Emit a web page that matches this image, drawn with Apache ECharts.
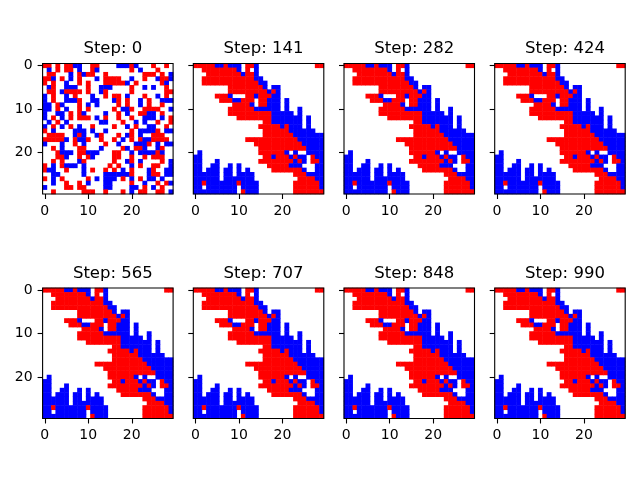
<!DOCTYPE html>
<html>
<head>
<meta charset="utf-8">
<script src="https://cdn.jsdelivr.net/npm/echarts@6/dist/echarts.min.js"></script>
<style>
  html, body { margin: 0; padding: 0; background: #fff; }
  #chart { width: 640px; height: 480px; }
</style>
</head>
<body>
<div id="chart"></div>
<script>
// step numbers shown in the titles
const steps = [0, 141, 282, 424, 565, 707, 848, 990];

// R = red agent, B = blue agent, . = empty ; row 0 at the top
const gridStep0 = [
  "RR.R.RRBB..RR....BBBRB...R..R.",
  ".B.R.RR.B..RB.......R.B...R...",
  ".RR...B.RBRR..R........RRR.R.B",
  "RRB.R.B.R...B.RRRR..B..R..BRRB",
  "R.R..B..R.R...RRRRRB.R.....RB.",
  ".BR..BBB..R..BBB....R..B.B..R.",
  ".RR.BRRRR.R..BR.....R.......RR",
  "B.R..B.R...B..R.RR.B...R..B.R.",
  "B.R..BBBR..BB...BR.R..B.R..BBB",
  "BB.RB...R.B.B....R.R..B.R..R..",
  "BB.R.B..R.R.....R.BBR..RRRR..B",
  "B..BB.R.RB....B..R.B..RRBB.R..",
  "B.R.B.R.RRR.B.R..R..R..BBB.B.R",
  ".B.R.B.......BB...R..B.B..R..R",
  "B.R.B.R.B..R....R..B.R..BB..R.",
  "R.B....BBB.B..B.....R.BBBBR.BB",
  ".RRRR..BRB..BR...R.BR.B..RRR..",
  "RRRRRB.RBBR..R..R.B.R.RBBRRRR.",
  "B...B..R.B....R..B...BBBR.B.BB",
  "..R.B...RR...B....RB.RRB..BR..",
  "...RBBB.RRBBB...RR..B.BBBBRB..",
  "...RRB..R.RB....RR..R..R.RRR..",
  "..R.R...BR......R..BR.B....R.B",
  "R.B.RBBB.B.....R.R..B.R..RR..B",
  "RBB..R...B.R..R.R.B.R...BR..BB",
  "..BB.....B....BBBBBBR...BRR.BB",
  "R.B.R.....R.B.BBB.R.B.R.BB.B..",
  "..B..R..R.B...BB....R..B..R.RB",
  "B....RR.RR....BB....BB.R.B.R..",
  "..R......RRR..R...R.B.RR..RR.B"
];

// steps 141..990 look the same at this size
const gridLater = [
  "RRRRRBBRBBB.RRB.............RR",
  "..RRRRRRRRB.R.B...............",
  "...RRRRRRRRBRRB...............",
  "..RRRRRRRRRRRRBB..............",
  "..RRRRRRRRRRRRRBB.............",
  "........RRRRRRRRB.BB..........",
  "........RRRRRRRRRBRB..........",
  ".....RRRB...RRBRRRBB..........",
  "......RRRBBRRR.RRBBB.B........",
  ".........RRRRB.RRBBB.B........",
  "........RRRRRRBBBBBB.B..B.....",
  "........RRRRRRRRRRBBBBB.B.....",
  "..........RRRRRRRRBBBBBBB.B...",
  "................RRBBBBBBB.B...",
  "...............RRRRRBRBBB.B...",
  "................RRRRRRBBBBBB..",
  "................RRRRRRRBBBBBBB",
  "............RRRRRRRRRRRRBBBBBB",
  "..............RRRRRRRRRRRBBBBB",
  "...............RRRRRRRRRRRBBBB",
  ".B.............RRRRRRB.B..BBBB",
  "BB..............RRBRRRBRBB.RBB",
  "BB...B.........RRRRRRRRBRB.RRB",
  "BB..BB..B.B......RRRRRBBB...BB",
  "BB.BBB.BB.B.B.....RRRRRRRB..BB",
  "BBBBBB.BB.BBBB.........RRRBBBB",
  "BBBBBB.BBBBBBB..........RRRRBB",
  "BBRBBBBBBBRBBBB........RRRRRRB",
  "BB.BBBBBBB.BBBB........RRRRRRB",
  "BBBBBBBBBB.RBBB........RRRRRRR"
];

const panelGrids = [gridStep0, gridLater, gridLater, gridLater, gridLater, gridLater, gridLater, gridLater];
const agentValue = { R: 1, B: 2 };

const cells = [];
for (let i = 0; i < 30; i++) cells.push(String(i));

const colLeft = [42.6, 193.3, 344, 494.7];
const rowTop = [63.5, 288];
const size = 130.5;
const font = 'DejaVu Sans';

let grids = [], xAxes = [], yAxes = [], series = [], titles = [];
panelGrids.forEach((g, k) => {
  let col = k % 4, row = Math.floor(k / 4);
  grids.push({
    left: colLeft[col], top: rowTop[row], width: size, height: size,
    show: true, borderColor: '#000', borderWidth: 1.1, backgroundColor: 'transparent', z: 10
  });
  let tickFn = (idx) => idx % 10 === 0;
  xAxes.push({
    type: 'category', gridIndex: k, data: cells, position: 'bottom',
    axisLine: { show: false },
    axisTick: { show: true, alignWithLabel: true, interval: tickFn, length: 5, lineStyle: { color: '#000', width: 1.1 } },
    axisLabel: { interval: tickFn, margin: 10, fontSize: 14, color: '#000', fontFamily: font },
    splitLine: { show: false }
  });
  yAxes.push({
    type: 'category', gridIndex: k, data: cells, inverse: true,
    axisLine: { show: false },
    axisTick: { show: true, alignWithLabel: true, interval: tickFn, length: 5, lineStyle: { color: '#000', width: 1.1 } },
    axisLabel: { show: col === 0, interval: tickFn, margin: 10, fontSize: 14, color: '#000', fontFamily: font },
    splitLine: { show: false }
  });
  let data = [];
  g.forEach((line, r) => {
    for (let c = 0; c < line.length; c++) {
      let ch = line[c];
      if (agentValue[ch]) data.push([c, r, agentValue[ch]]);
    }
  });
  series.push({
    type: 'heatmap', xAxisIndex: k, yAxisIndex: k, data: data, z: 1,
    emphasis: { disabled: true }, progressive: 0, animation: false
  });
  titles.push({
    text: 'Step: ' + steps[k],
    left: colLeft[col] + size / 2, top: rowTop[row] - 28, textAlign: 'center',
    textStyle: { fontSize: 16.5, fontWeight: 'normal', color: '#000', fontFamily: font }
  });
});

const chart = echarts.init(document.getElementById('chart'));
chart.setOption({
  animation: false,
  backgroundColor: '#fff',
  title: titles,
  grid: grids,
  xAxis: xAxes,
  yAxis: yAxes,
  visualMap: {
    type: 'piecewise', show: false, dimension: 2,
    seriesIndex: series.map((s, i) => i),
    pieces: [{ value: 1, color: '#ff0000' }, { value: 2, color: '#0000ff' }]
  },
  series: series
});
</script>
</body>
</html>
